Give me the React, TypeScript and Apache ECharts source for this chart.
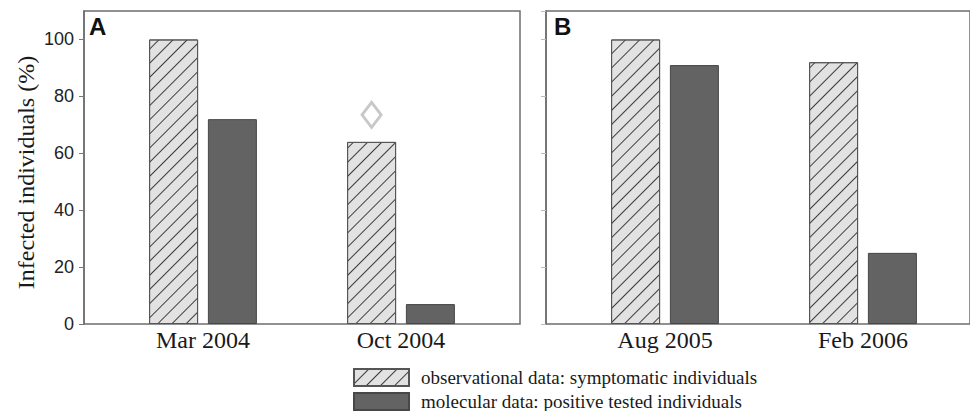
import React, { useEffect, useRef } from "react";
import * as echarts from "echarts";

const panelLetters = ["A", "B"];
const panelACategories = ["Mar 2004", "Oct 2004"];
const panelBCategories = ["Aug 2005", "Feb 2006"];
const observationalA = [100, 64];
const molecularA = [72, 7];
const observationalB = [100, 92];
const molecularB = [91, 25];
const outlierOct2004 = 73.5;
const seriesNames = [
  "observational data: symptomatic individuals",
  "molecular data: positive tested individuals",
];
const yAxisTitle = "Infected individuals (%)";

const hatchStyle = {
  color: "#e2e2e2",
  borderColor: "#555",
  borderWidth: 1,
  decal: {
    symbol: "rect",
    symbolSize: 1,
    dashArrayX: [[1, 0]],
    dashArrayY: [1, 9],
    rotation: -Math.PI / 4,
    color: "#3c3c3c",
  },
};
const solidStyle = { color: "#636363", borderColor: "#474747", borderWidth: 1 };

export default function App() {
  const ref = useRef<HTMLDivElement>(null);
  useEffect(() => {
    if (!ref.current) return;
    const chart = echarts.init(ref.current, undefined, { renderer: "svg" });
    const xAxisCommon = {
      type: "category",
      axisLine: { show: false },
      axisTick: { show: false },
      axisLabel: {
        fontFamily: "Liberation Serif",
        fontSize: 24,
        color: "#1a1a1a",
        margin: 4,
      },
    };
    const yAxisCommon = {
      type: "value",
      min: 0,
      max: 110,
      interval: 20,
      offset: 20,
      splitLine: { show: false },
      axisLine: { show: true, lineStyle: { color: "#6e6e6e", width: 1.5 } },
      axisTick: { show: true, inside: false, length: 5, lineStyle: { color: "#777" } },
    };
    const legendCommon = {
      orient: "vertical",
      left: 353,
      padding: 0,
      icon: "rect",
      itemWidth: 55,
      itemHeight: 17,
      textStyle: {
        fontFamily: "Liberation Serif",
        fontSize: 19,
        color: "#1a1a1a",
        padding: [0, 0, 0, 7],
      },
    };
    const titleText = {
      fontFamily: "Liberation Sans",
      fontWeight: "bold",
      fontSize: 24,
      lineHeight: 24,
      color: "#111",
    };
    chart.setOption({
      animation: false,
      backgroundColor: "#fff",
      title: [
        { text: panelLetters[0], left: 89, top: 14, padding: 0, textStyle: titleText },
        { text: panelLetters[1], left: 554, top: 14, padding: 0, textStyle: titleText },
      ],
      grid: [
        { left: 104, top: 11, width: 396, height: 313 },
        { left: 566, top: 11, width: 396, height: 313 },
        { left: 84, top: 11, width: 436, height: 313, show: true, borderColor: "#6e6e6e", borderWidth: 1.5, backgroundColor: "transparent" },
        { left: 546, top: 11, width: 436, height: 313, show: true, borderColor: "#6e6e6e", borderWidth: 1.5, backgroundColor: "transparent" },
      ],
      xAxis: [
        { ...xAxisCommon, gridIndex: 0, data: panelACategories },
        { ...xAxisCommon, gridIndex: 1, data: panelBCategories },
        { type: "value", gridIndex: 2, show: false },
        { type: "value", gridIndex: 3, show: false },
      ],
      yAxis: [
        {
          ...yAxisCommon,
          gridIndex: 0,
          name: yAxisTitle,
          nameLocation: "middle",
          nameGap: 46,
          nameTextStyle: {
            fontFamily: "Liberation Serif",
            fontSize: 24,
            color: "#1a1a1a",
            padding: [0, 10, 0, 0],
          },
          axisLabel: {
            fontFamily: "Liberation Sans",
            fontSize: 18,
            color: "#222",
            margin: 10,
            showMaxLabel: false,
          },
        },
        {
          ...yAxisCommon,
          gridIndex: 1,
          axisLabel: { show: false },
          axisTick: { show: true, inside: false, length: 5, lineStyle: { color: "#bbb" } },
        },
        { type: "value", gridIndex: 2, show: false },
        { type: "value", gridIndex: 3, show: false },
      ],
      legend: [
        { ...legendCommon, top: 368, data: [seriesNames[0]] },
        { ...legendCommon, top: 392, data: [seriesNames[1]] },
      ],
      series: [
        {
          type: "bar",
          name: seriesNames[0],
          xAxisIndex: 0,
          yAxisIndex: 0,
          data: observationalA,
          barWidth: 49,
          barGap: "20%",
          itemStyle: hatchStyle,
          markPoint: {
            symbol: "diamond",
            symbolSize: [19, 25],
            label: { show: false },
            itemStyle: { color: "#fff", borderColor: "#c8c8c8", borderWidth: 3, decal: "none" },
            data: [{ coord: ["Oct 2004", outlierOct2004] }],
          },
        },
        {
          type: "bar",
          name: seriesNames[1],
          xAxisIndex: 0,
          yAxisIndex: 0,
          data: molecularA,
          barWidth: 49,
          barGap: "20%",
          itemStyle: solidStyle,
        },
        {
          type: "bar",
          name: seriesNames[0],
          xAxisIndex: 1,
          yAxisIndex: 1,
          data: observationalB,
          barWidth: 49,
          barGap: "20%",
          itemStyle: hatchStyle,
        },
        {
          type: "bar",
          name: seriesNames[1],
          xAxisIndex: 1,
          yAxisIndex: 1,
          data: molecularB,
          barWidth: 49,
          barGap: "20%",
          itemStyle: solidStyle,
        },
      ],
    });
    return () => chart.dispose();
  }, []);
  return (
    <div
      ref={ref}
      style={{ position: "fixed", left: 0, top: 0, width: 970, height: 411 }}
    />
  );
}
